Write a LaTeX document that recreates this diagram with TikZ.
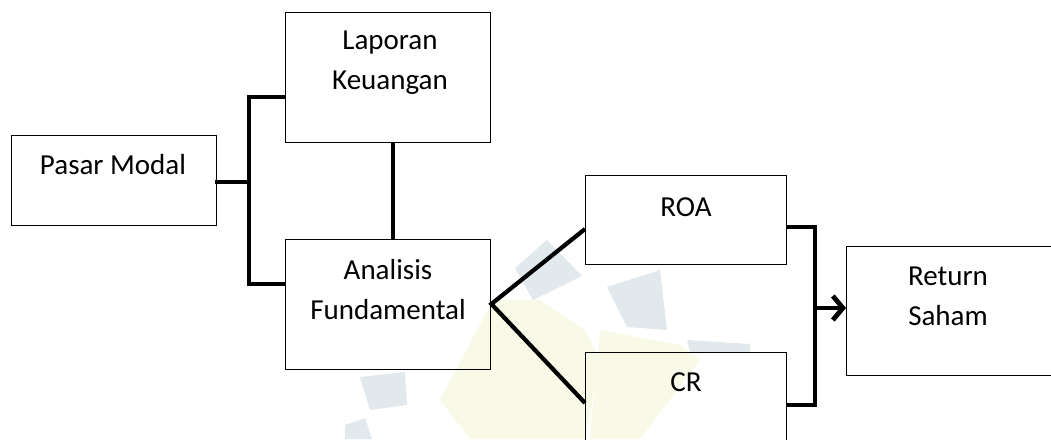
\documentclass[tikz,border=0pt]{standalone}
\usepackage{fontspec}
\setmainfont{Carlito}
\usetikzlibrary{arrows.meta}
\definecolor{wmblue}{RGB}{226,233,236}
\definecolor{wmyellow}{RGB}{248,249,230}
\tikzset{
  box/.style={draw=black, line width=1.4pt, fill=none, rectangle, inner sep=0pt, anchor=north west},
  lbl/.style={font=\fontsize{29}{40}\selectfont, align=center, inner sep=0pt},
  conn/.style={draw=black, line width=4.8pt, line cap=rect},
  wm/.style={draw=none}
}
\begin{document}
\begin{tikzpicture}[x=1pt,y=-1pt]
\useasboundingbox (0,0) rectangle (1051,439);
\clip (0,0) rectangle (1051,439);
\fill[white] (0,0) rectangle (1051,439);
% faint watermark
\fill[wmyellow] (493,300) -- (540,300) -- (585,330) -- (600,360) -- (585,439) -- (470,439) -- (440,400) -- cycle;
\fill[wmyellow] (600,330) -- (680,345) -- (700,360) -- (640,439) -- (590,439) -- cycle;
\fill[wmblue] (547,240) -- (582,276) -- (533,300) -- (515,268) -- cycle;
\fill[wmblue] (607,287) -- (660,270) -- (667,330) -- (627,327) -- cycle;
\fill[wmblue] (687,340) -- (750,344) -- (750,352) -- (690,352) -- cycle;
\fill[wmblue] (360,377) -- (405,372) -- (407,405) -- (370,410) -- cycle;
\fill[wmblue] (345,425) -- (365,418) -- (372,439) -- (345,439) -- cycle;
% boxes
\node[box, minimum width=205pt, minimum height=90pt] (pm) at (11,135) {};
\node[box, minimum width=205pt, minimum height=130pt] (lk) at (285,12) {};
\node[box, minimum width=205pt, minimum height=130pt] (af) at (285,239) {};
\node[box, minimum width=201pt, minimum height=89pt] (roa) at (585,175) {};
\node[box, minimum width=201pt, minimum height=92pt] (cr) at (585,352) {};
\node[box, minimum width=210pt, minimum height=129pt] (rs) at (846,246) {};
% labels
\node[lbl] (pmt) at (113,165) {Pasar Modal};
\node[lbl] (lkt) at (390,63) {Laporan\\Keuangan};
\node[lbl] (aft) at (388,290) {Analisis\\Fundamental};
\node[lbl] (roat) at (686,207) {ROA};
\node[lbl] (crt) at (686,382) {CR};
\node[lbl] (rst) at (948,296) {Return\\Saham};
% junctions
\coordinate (j1) at (249,182);
\coordinate (j2) at (815,308);
% connectors
\draw[conn] (pm.east |- j1) -- (j1);
\draw[conn, line cap=butt] (lk.west |- 0,97) -| (j1) |- (af.west |- 0,284);
\draw[conn, line cap=butt] (lk.south -| 393,0) -- (af.north -| 393,0);
\draw[conn, line width=4.2pt, line cap=butt, line join=miter] (roa.west |- 0,229) -- (af.east |- 0,304) -- (cr.west |- 0,403);
\draw[conn, line cap=butt, line join=miter] (roa.east |- 0,227) -| (j2) |- (cr.east |- 0,405);
\draw[conn, line cap=butt, -{Straight Barb[length=10pt,width=24pt]}] (j2) -- (rs.west |- j2);
\end{tikzpicture}
\end{document}
